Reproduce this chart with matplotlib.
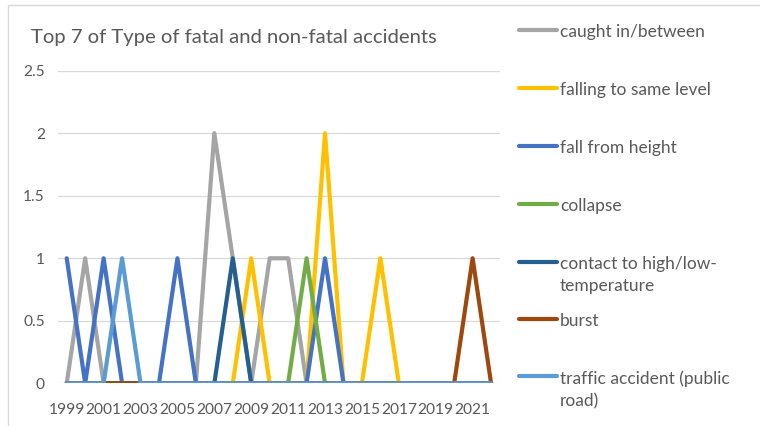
import matplotlib
matplotlib.use("Agg")
import matplotlib.pyplot as plt
from matplotlib.lines import Line2D
from matplotlib.patches import Rectangle

plt.rcParams['font.family'] = ['Lato', 'DejaVu Sans']

years = list(range(1999, 2023))
series_names = [
    "caught in/between",
    "falling to same level",
    "fall from height",
    "collapse",
    "contact to high/low-\ntemperature",
    "burst",
    "traffic accident (public\nroad)",
]
colors = ["#A5A5A5", "#FFC000", "#4472C4", "#70AD47", "#255E91", "#9E480E", "#5B9BD5"]

#                 1999                     2009                     2019
caught_in      = [0,1,0,0,0,0,0,0,2,1,0,1,1,0,0,0,0,0,0,0,0,0,0,0]
falling_same   = [0,0,0,0,0,0,0,0,0,0,1,0,0,0,2,0,0,1,0,0,0,0,0,0]
fall_height    = [1,0,1,0,0,0,1,0,0,0,0,0,0,0,1,0,0,0,0,0,0,0,0,0]
collapse       = [0,0,0,0,0,0,0,0,0,0,0,0,0,1,0,0,0,0,0,0,0,0,0,0]
contact_temp   = [0,0,0,0,0,0,0,0,0,1,0,0,0,0,0,0,0,0,0,0,0,0,0,0]
burst          = [0,0,0,0,0,0,0,0,0,0,0,0,0,0,0,0,0,0,0,0,0,0,1,0]
traffic        = [0,0,0,1,0,0,0,0,0,0,0,0,0,0,0,0,0,0,0,0,0,0,0,0]
all_series = [caught_in, falling_same, fall_height, collapse, contact_temp, burst, traffic]

y_ticks = [0, 0.5, 1, 1.5, 2, 2.5]
y_tick_labels = ["0", "0.5", "1", "1.5", "2", "2.5"]
x_tick_years = list(range(1999, 2023, 2))

W, H = 760, 426
fig = plt.figure(figsize=(W / 100, H / 100), dpi=100)

# outer chart border
fig.patches.append(Rectangle((8 / W, -0.1), 1.2, 1.1 - 5 / H, transform=fig.transFigure,
                             fill=False, edgecolor="#D9D9D9", linewidth=1.0))

ax = fig.add_axes([57.5 / W, 1 - 383.3 / H, (500.3 - 57.5) / W, (383.3 - 70.7) / H])
ax.set_xlim(years[0] - 0.5, years[-1] + 0.5)
ax.set_ylim(0, 2.5)

for vals, c in zip(all_series, colors):
    ax.plot(years, vals, color=c, linewidth=3.0, solid_joinstyle="round",
            solid_capstyle="round", zorder=3)

ax.set_yticks(y_ticks)
ax.set_yticklabels(y_tick_labels)
ax.set_xticks(x_tick_years)
ax.set_xticklabels([str(y) for y in x_tick_years])
ax.grid(axis="y", color="#D9D9D9", linewidth=0.9, zorder=0)
ax.tick_params(axis="both", length=0, labelcolor="#595959", labelsize=11.2)
ax.tick_params(axis="y", pad=9)
ax.tick_params(axis="x", pad=14)
for s in ax.spines.values():
    s.set_visible(False)

fig.text(31 / W, 1 - 38 / H, "Top 7 of Type of fatal and non-fatal accidents",
         fontsize=14.6, color="#595959", va="center", ha="left")

# legend
leg_y = [30, 88, 146, 204, 262, 319, 376]
for name, c, yp in zip(series_names, colors, leg_y):
    fy = 1 - yp / H
    fig.add_artist(Line2D([519 / W, 557 / W], [fy, fy], color=c, linewidth=3.0,
                          solid_capstyle="round", transform=fig.transFigure))
    fig.text(560 / W, 1 - (yp - 6) / H, name, fontsize=12.5, color="#595959",
             va="top", ha="left", linespacing=1.5)

fig.savefig("out.png", dpi=100)
